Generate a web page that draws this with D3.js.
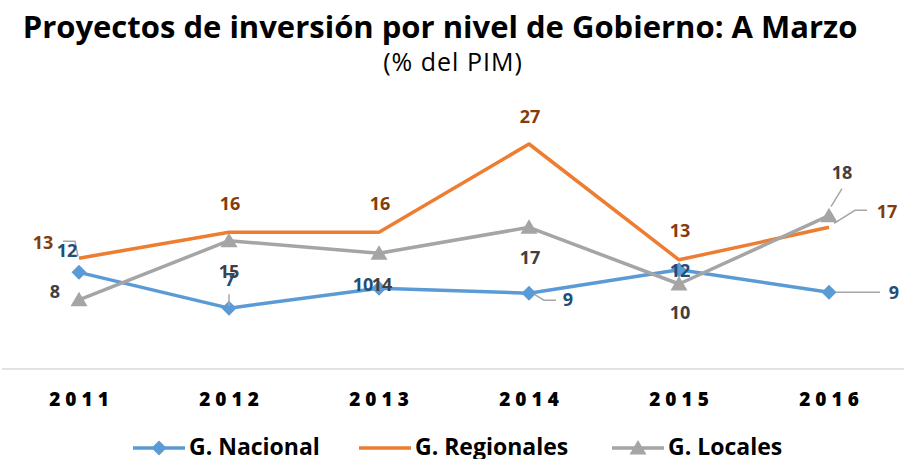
<!DOCTYPE html>
<html>
<head>
<meta charset="utf-8">
<script src="https://cdn.jsdelivr.net/npm/d3@7"></script>
<style>
  body { margin: 0; background: #fff; }
  svg { display: block; font-family: "Open Sans", sans-serif; }
</style>
</head>
<body>
<div id="chart"></div>
<script>
const years = ["2011", "2012", "2013", "2014", "2015", "2016"];
const nacional = [11.6, 7.3, 9.7, 9.1, 11.9, 9.2];
const regionales = [13.3, 16.4, 16.4, 27.0, 13.1, 17.0];
const locales = [8.3, 15.4, 13.9, 17.0, 10.2, 18.4];
const seriesNames = ["G. Nacional", "G. Regionales", "G. Locales"];

const width = 904,
  height = 459;

const svg = d3
  .select("#chart")
  .append("svg")
  .attr("width", width)
  .attr("height", height);

const x = d3.scaleBand().domain(years).range([4, 904]);
const y = d3.scaleLinear().domain([0, 30]).range([369, 119]);
const cx = (d) => x(d) + x.bandwidth() / 2;

const diamond = "M0,-7.5L7.5,0L0,7.5L-7.5,0Z";
const triangle = "M0,-8L8.5,6.5L-8.5,6.5Z";

// label offsets (dx, dy from the point) and leader lines, per series
const series = [
  {
    name: seriesNames[0],
    values: nacional,
    color: "#5b9bd5",
    labelColor: "#1f4e79",
    marker: diamond,
    labelPos: [[-12, -22], [1, -28], [-16, -3], [39, 7], [1, 1], [65, 0]],
    leaders: [[[-16, -31], [-4, -31], [-1, -16]], [[0, -14], [0, -2]], null,
      [[5, 1], [15, 7], [27, 7]], null, [[7, 0], [51, 0]]],
  },
  {
    name: seriesNames[1],
    values: regionales,
    color: "#ed7d31",
    labelColor: "#843c0c",
    marker: null,
    labelPos: [[-36, -15], [1, -29], [1, -29], [1, -27], [1, -29], [58, -16]],
    leaders: [null, null, null, null, null, [[5, -4], [26, -17], [38, -17]]],
  },
  {
    name: seriesNames[2],
    values: locales,
    color: "#a5a5a5",
    labelColor: "#404040",
    marker: triangle,
    labelPos: [[-24, -8], [0, 31], [3, 32], [1, 30], [1, 29], [13, -43]],
    leaders: [null, null, null, null, null, [[2, -9], [13, -27]]],
  },
];

// title
svg
  .append("text")
  .attr("x", 440)
  .attr("y", 38)
  .attr("text-anchor", "middle")
  .style("font-size", "31px")
  .style("font-weight", "bold")
  .attr("fill", "#000")
  .text("Proyectos de inversión por nivel de Gobierno: A Marzo");

svg
  .append("text")
  .attr("x", 453)
  .attr("y", 71)
  .attr("text-anchor", "middle")
  .style("font-size", "25px")
  .style("letter-spacing", "1px")
  .attr("fill", "#000")
  .text("(% del PIM)");

// category axis line
svg
  .append("line")
  .attr("x1", 2)
  .attr("x2", 904)
  .attr("y1", y(0))
  .attr("y2", y(0))
  .attr("stroke", "#d9d9d9")
  .attr("stroke-width", 1.5);

svg
  .selectAll(".tick-label")
  .data(years)
  .enter()
  .append("text")
  .attr("class", "tick-label")
  .attr("x", (d) => cx(d) + 2.5)
  .attr("y", 406)
  .attr("text-anchor", "middle")
  .style("font-size", "19px")
  .style("font-weight", "800")
  .style("letter-spacing", "5px")
  .attr("fill", "#000")
  .text((d) => d);

const line = d3
  .line()
  .x((d, i) => cx(years[i]))
  .y((d) => y(d));

series.forEach(function (s) {
  const g = svg.append("g");
  g.append("path")
    .attr("d", line(s.values))
    .attr("fill", "none")
    .attr("stroke", s.color)
    .attr("stroke-width", 3.5)
    .attr("stroke-linejoin", "round");
  if (s.marker) {
    g.selectAll(".marker")
      .data(s.values)
      .enter()
      .append("path")
      .attr("d", s.marker)
      .attr("transform", (d, i) => `translate(${cx(years[i])},${y(d)})`)
      .attr("fill", s.color);
  }
});

// leader lines and data labels
series.forEach(function (s) {
  s.values.forEach(function (v, i) {
    const px = cx(years[i]),
      py = y(v);
    if (s.leaders[i]) {
      svg
        .append("polyline")
        .attr("points", s.leaders[i].map((p) => [px + p[0], py + p[1]].join(",")).join(" "))
        .attr("fill", "none")
        .attr("stroke", "#a6a6a6")
        .attr("stroke-width", 1.5);
    }
  });
});

series.forEach(function (s) {
  svg
    .selectAll(null)
    .data(s.values)
    .enter()
    .append("text")
    .attr("x", (d, i) => cx(years[i]) + s.labelPos[i][0])
    .attr("y", (d, i) => y(d) + s.labelPos[i][1])
    .attr("dy", "0.35em")
    .attr("text-anchor", "middle")
    .style("font-size", "18px")
    .style("font-weight", "bold")
    .attr("fill", s.labelColor)
    .text((d) => d3.format(".0f")(d));
});

// legend
const legendX = [133, 359, 612];
const legend = svg
  .selectAll(".legend")
  .data(series)
  .enter()
  .append("g")
  .attr("class", "legend")
  .attr("transform", (d, i) => `translate(${legendX[i]},448)`);

legend
  .append("line")
  .attr("x1", 0)
  .attr("x2", 52)
  .attr("stroke", (d) => d.color)
  .attr("stroke-width", 3.5);

legend
  .filter((d) => d.marker)
  .append("path")
  .attr("d", (d) => d.marker)
  .attr("transform", "translate(26,0)")
  .attr("fill", (d) => d.color);

legend
  .append("text")
  .attr("x", 56)
  .attr("y", 7)
  .style("font-size", "23px")
  .style("font-weight", "bold")
  .attr("fill", "#000")
  .text((d) => d.name);
</script>
</body>
</html>
